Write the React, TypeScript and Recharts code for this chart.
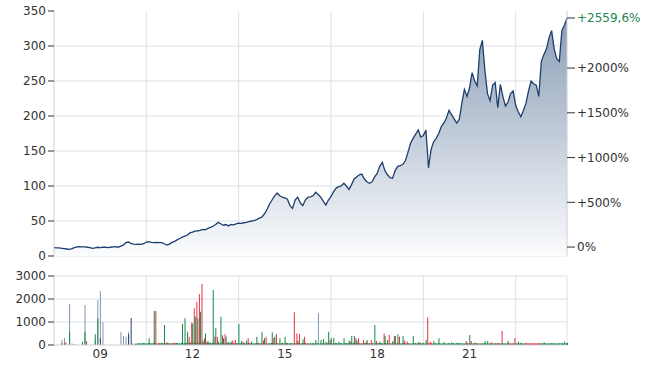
import React from 'react';
import { ComposedChart, Area, Bar, Cell, XAxis, YAxis, CartesianGrid } from 'recharts';

// monthly closes, month index 0..200
const prices = [
  12, 11.5, 11.5, 11, 10.5, 10, 9.5, 10.5, 12, 13,
  13.5, 13, 13, 12.5, 12, 11, 11.5, 12.5, 12, 12.5,
  12.5, 12, 12.5, 13, 13.5, 12.5, 14, 15.5, 19, 20,
  18, 17, 16.5, 17, 16.5, 17.5, 20, 20.5, 19.5, 19,
  19.5, 19, 19, 17.5, 15.5, 17, 19.5, 21, 23, 25,
  27, 28.5, 30, 33, 34, 35.5, 36, 36.5, 38, 37.5,
  39.5, 41, 42.5, 45, 48, 46, 44, 45, 43, 45,
  44.5, 46, 47, 46.5, 47.5, 48, 49, 50, 50.5, 52,
  54, 55.5, 60, 66, 74, 80, 86, 90, 86, 84,
  83, 81, 72, 68, 80, 84, 76, 72, 80, 84,
  84.5, 86, 91, 88, 84, 78, 73, 80, 85, 92,
  97, 99, 100, 104, 100, 95, 102, 110, 113, 116,
  117, 110, 106, 104, 106, 113, 118, 128, 134, 122,
  116, 112, 111, 122, 128, 129, 131, 136, 148, 161,
  168, 174, 180, 170, 172, 180, 126, 152, 163, 168,
  175, 185, 190, 197, 208, 202, 196, 190, 195, 218,
  238, 228, 240, 262, 250, 243, 295, 308, 265, 232,
  222, 244, 248, 212, 245, 228, 214, 220, 232, 236,
  215, 206, 199, 208, 218, 236, 250, 246, 244, 228,
  278, 288, 296, 312, 322, 296, 282, 278, 322, 330, 340,
];

const yearLabels = ['09', '12', '15', '18', '21'];
const labelMonths = [18, 54, 90, 126, 162];
const gridMonths = [36, 72, 108, 144, 180];

const priceTicks = [0, 50, 100, 150, 200, 250, 300, 350];
const priceGrid = [0, 50, 100, 150, 200, 250, 300];
const pctTicks = [0, 500, 1000, 1500, 2000];
const lastChange = 2559.6;

const volumeTicks = [0, 1000, 2000, 3000];

// [month, volume]
const greyVolume = [
  [3, 217], [4, 305], [6, 1780], [7, 60], [12, 1740], [16, 190], [17, 1960], [18, 2350],
  [19, 990], [26, 565], [27, 390], [28, 360], [29, 565], [33, 60], [103, 1380],
];
const navyVolume = [[4, 70], [18, 290], [29, 470], [30, 1175]];
const upVolume = [
  [3, 80], [6, 580], [8, 40], [11, 145], [12, 580], [16, 464], [17, 1160], [36, 40], [37, 290],
  [39, 1480], [43, 870], [48, 40], [50, 910], [51, 1160], [52, 580], [53, 120], [54, 940],
  [55, 1230], [56, 1160], [57, 1450], [58, 200], [59, 500], [60, 150], [62, 2390], [63, 725],
  [64, 150], [65, 1230], [66, 290], [67, 360], [68, 120], [69, 150], [72, 910], [73, 150],
  [75, 200], [77, 150], [79, 360], [81, 580], [82, 290], [85, 550], [86, 360], [88, 290],
  [89, 100], [90, 360], [92, 80], [95, 190], [97, 250], [98, 100], [100, 80], [102, 220],
  [104, 220], [105, 260], [106, 145], [107, 580], [108, 290], [109, 320], [111, 145], [113, 290],
  [115, 200], [116, 390], [117, 390], [118, 200], [122, 220], [125, 870], [127, 145], [129, 390],
  [130, 220], [132, 170], [133, 390], [134, 464], [136, 390], [140, 390], [142, 120], [145, 220],
  [148, 170], [150, 290], [152, 120], [155, 120], [157, 100], [162, 435], [164, 100], [168, 170],
  [169, 170], [173, 80], [177, 170], [181, 145], [182, 100], [191, 115], [199, 145], [200, 100],
];
const downVolume = [
  [5, 116], [13, 160], [31, 70], [40, 1480], [53, 360], [54, 970], [55, 1600], [56, 1885],
  [57, 2220], [58, 2650], [59, 290], [60, 150], [63, 360], [64, 360], [66, 420], [67, 464],
  [68, 100], [70, 200], [71, 220], [74, 150], [76, 290], [80, 100], [82, 200], [83, 360],
  [86, 300], [87, 480], [91, 100], [94, 1420], [95, 500], [96, 480], [98, 360], [108, 220],
  [116, 150], [118, 290], [119, 290], [121, 220], [122, 145], [124, 220], [126, 170], [129, 500],
  [131, 435], [133, 390], [135, 360], [137, 200], [138, 150], [143, 120], [146, 1200], [147, 145],
  [161, 170], [163, 170], [171, 120], [175, 610], [180, 305],
];

// small daily volume under the spikes, month 32 onwards
const baseStart = 32;
const baseVolume = [
  60, 80, 70, 90, 65, 85, 75, 95, 70, 80,
  90, 70, 100, 80, 75, 95, 85, 70, 90, 80,
  100, 85, 90, 110, 95, 100, 90, 85, 100, 95,
  90, 80, 100, 85, 90, 75, 95, 80, 85, 90,
  80, 70, 85, 75, 90, 80, 70, 85, 75, 80,
  85, 70, 80, 90, 75, 85, 70, 80, 75, 85,
  70, 80, 75, 90, 70, 85, 80, 75, 70, 80,
  75, 85, 70, 80, 75, 90, 80, 70, 85, 75,
  80, 70, 85, 75, 80, 90, 85, 80, 75, 85,
  80, 75, 85, 70, 80, 90, 75, 85, 80, 70,
  85, 75, 80, 70, 85, 75, 80, 70, 75, 80,
  70, 75, 80, 70, 75, 85, 70, 75, 80, 70,
  75, 70, 80, 70, 75, 70, 80, 75, 70, 80,
  75, 70, 80, 75, 70, 75, 80, 70, 75, 70,
  75, 80, 70, 75, 70, 80, 75, 70, 75, 70,
  75, 70, 80, 75, 70, 75, 70, 80, 75, 70,
  75, 70, 80, 75, 70, 75, 80, 70, 75,
];
const baseDownMonths = [
  41, 44, 47, 53, 55, 57, 58, 60, 63, 66, 70, 76, 83, 87, 94, 96, 99, 105, 118, 121, 124,
  131, 137, 146, 147, 163, 166, 171, 173, 178, 180, 184, 185, 186, 187, 188, 189,
];

const GREEN = '#17874a';
const RED = '#e3323f';
const GRID = '#dde0e6';
const BORDER = '#cbcfd7';
const TEXT = '#333';

const priceRows = prices.map((p, i) => ({ t: i, price: p }));

const volumeRows: any[] = prices.map((_, i) => ({
  t: i,
  base: i >= baseStart ? baseVolume[i - baseStart] : null,
  baseDown: baseDownMonths.includes(i),
}));
greyVolume.forEach(([m, v]) => (volumeRows[m].grey = v));
navyVolume.forEach(([m, v]) => (volumeRows[m].navy = v));
upVolume.forEach(([m, v]) => (volumeRows[m].up = v));
downVolume.forEach(([m, v]) => (volumeRows[m].down = v));

const basePrice = prices[prices.length - 1] / (1 + lastChange / 100);
const pctDomain = [-100, (350 / basePrice - 1) * 100];

const PctTick = (props: any) => {
  const { x, y, payload } = props;
  const v = payload.value;
  const isLast = v === lastChange;
  const label = (v > 0 ? '+' : '') + String(v).replace('.', ',') + '%';
  return (
    <text x={x} y={y} dy="0.355em" textAnchor="start" fontSize={12} fill={isLast ? '#23884f' : TEXT}>
      {label}
    </text>
  );
};

export default function App() {
  return (
    <div style={{ position: 'absolute', left: 0, top: 0, width: 650, height: 370, fontFamily: '"DejaVu Sans", Verdana, sans-serif', background: '#fff' }}>
      <div style={{ position: 'absolute', left: 0, top: 260 }}>
        <ComposedChart width={650} height={110} data={volumeRows} margin={{ top: 16, right: 83, bottom: 0, left: 0 }} barGap={0}>
          <CartesianGrid stroke={GRID} horizontalValues={[1000, 2000, 3000]} verticalValues={[...gridMonths, 200]} />
          <XAxis
            dataKey="t"
            type="number"
            domain={[0, 200]}
            ticks={labelMonths}
            interval={0}
            height={25}
            tickLine={false}
            tickSize={0}
            tickMargin={4}
            axisLine={{ stroke: BORDER }}
            tick={{ fontSize: 12, fill: TEXT }}
            tickFormatter={(v) => yearLabels[labelMonths.indexOf(v)]}
          />
          <XAxis xAxisId="base" dataKey="t" type="number" domain={[0, 200]} hide />
          <XAxis xAxisId="grey" dataKey="t" type="number" domain={[0, 200]} hide />
          <XAxis xAxisId="navy" dataKey="t" type="number" domain={[0, 200]} hide />
          <XAxis xAxisId="ud" dataKey="t" type="number" domain={[0, 200]} hide />
          <YAxis
            type="number"
            domain={[0, 3000]}
            ticks={volumeTicks}
            interval={0}
            width={54}
            tickSize={6}
            tickMargin={2}
            axisLine={{ stroke: BORDER }}
            tickLine={{ stroke: TEXT }}
            tick={{ fontSize: 12, fill: TEXT }}
          />
          <Bar xAxisId="base" dataKey="base" barSize={3} isAnimationActive={false}>
            {volumeRows.map((r, i) => (
              <Cell key={i} fill={r.baseDown ? RED : GREEN} />
            ))}
          </Bar>
          <Bar xAxisId="grey" dataKey="grey" fill="#7f96b3" barSize={1} isAnimationActive={false} />
          <Bar xAxisId="navy" dataKey="navy" fill="#2b426b" barSize={1} isAnimationActive={false} />
          <Bar xAxisId="ud" dataKey="down" fill={RED} barSize={1} isAnimationActive={false} />
          <Bar xAxisId="ud" dataKey="up" fill={GREEN} barSize={1} isAnimationActive={false} />
        </ComposedChart>
      </div>
      <div style={{ position: 'absolute', left: 0, top: 0 }}>
        <ComposedChart width={650} height={266} data={priceRows} margin={{ top: 11, right: 0, bottom: 10, left: 0 }}>
          <defs>
            <linearGradient id="priceFill" x1="0" y1="0" x2="0" y2="1">
              <stop offset="0%" stopColor="#8a9db6" />
              <stop offset="100%" stopColor="#fbfcfd" />
            </linearGradient>
          </defs>
          <CartesianGrid yAxisId="price" stroke={GRID} horizontalValues={priceGrid} verticalValues={gridMonths} />
          <XAxis dataKey="t" type="number" domain={[0, 200]} hide />
          <YAxis
            yAxisId="price"
            type="number"
            domain={[0, 350]}
            ticks={priceTicks}
            interval={0}
            width={54}
            tickSize={6}
            tickMargin={2}
            axisLine={{ stroke: BORDER }}
            tickLine={{ stroke: TEXT }}
            tick={{ fontSize: 12, fill: TEXT }}
          />
          <YAxis
            yAxisId="pct"
            orientation="right"
            type="number"
            domain={pctDomain}
            allowDataOverflow
            ticks={[...pctTicks, lastChange]}
            interval={0}
            width={83}
            tickSize={8}
            tickMargin={2}
            axisLine={{ stroke: BORDER }}
            tickLine={{ stroke: TEXT }}
            tick={<PctTick />}
          />
          <Area
            yAxisId="price"
            dataKey="price"
            type="linear"
            stroke="#1e3f6e"
            strokeWidth={1.3}
            fill="url(#priceFill)"
            fillOpacity={1}
            dot={false}
            activeDot={false}
            isAnimationActive={false}
          />
        </ComposedChart>
      </div>
    </div>
  );
}
